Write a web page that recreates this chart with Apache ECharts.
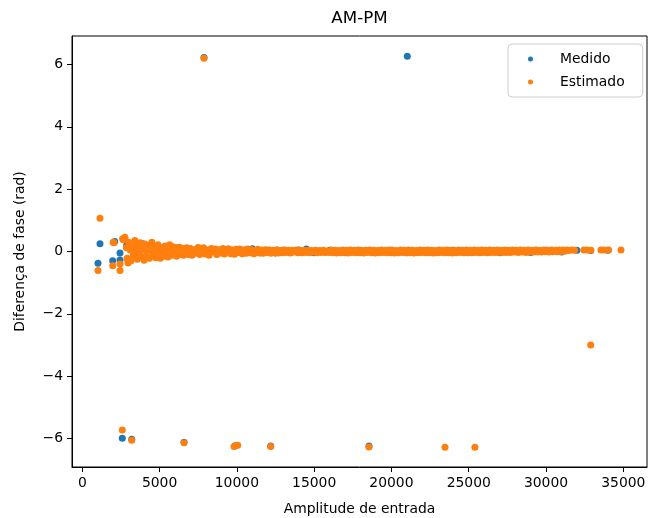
<!DOCTYPE html>
<html>
<head>
<meta charset="utf-8">
<script src="https://cdn.jsdelivr.net/npm/echarts@6/dist/echarts.min.js"></script>
<style>
  html, body { margin: 0; padding: 0; background: #fff; }
  #chart { width: 662px; height: 518px; }
</style>
</head>
<body>
<div id="chart"></div>
<script>
    // [amplitude, phase difference (rad)]
    const medido = [
        [1016, -0.38], [1145, 0.25], [1966, -0.30], [2096, 0.32], [2440, -0.05], [2440, -0.27],
        [2870, 0.19], [2957, -0.27], [2588, -5.99], [3196, -6.02], [6580, -6.12], [9900, -6.23],
        [12188, -6.24], [18548, -6.24], [7873, 6.22], [21026, 6.26],
        [3300, 0.15], [3600, -0.10], [3900, 0.25], [4200, -0.20], [4500, 0.05], [4800, 0.18],
        [5100, -0.12], [5400, 0.08], [5700, -0.08], [6000, 0.12], [6300, -0.06], [6600, 0.06],
        [7000, -0.04], [7500, 0.08], [8000, -0.06], [8500, 0.05], [9000, -0.04], [9500, 0.06],
        [10000, -0.03], [10500, 0.05], [11000, 0.09], [11500, -0.04], [12000, 0.04], [12500, -0.05],
        [13000, 0.04], [13500, -0.03], [14000, 0.05], [14500, 0.08], [15000, -0.04], [16000, 0.04],
        [17000, -0.04], [18000, 0.03], [19000, -0.03], [20000, 0.04], [21000, -0.04], [22000, 0.03],
        [23000, -0.03], [24000, 0.04], [25000, -0.03], [26000, 0.03], [27000, -0.04], [28000, 0.03],
        [29000, -0.03], [30000, 0.04], [31000, -0.02], [32000, 0.04], [32890, 0.03], [34000, 0.04]
    ];

    const estimado = [
        [1016, -0.61], [1145, 1.07], [1966, -0.46], [2000, 0.30], [2050, 0.28], [2440, -0.40],
        [2440, -0.61], [2957, -0.37], [2610, 0.41], [2760, 0.46], [2588, -5.72], [3196, -6.05],
        [6580, -6.13], [9814, -6.25], [10053, -6.21], [12188, -6.25], [18548, -6.27], [23466, -6.28],
        [25400, -6.28], [32890, -3.00], [7873, 6.20],
        [2650, 0.38], [2850, 0.12], [2900, -0.22], [3000, 0.30], [3100, 0.05], [3150, -0.30],
        [3250, 0.22], [3300, -0.12], [3400, 0.35], [3450, 0.02], [3550, -0.25], [3600, 0.18],
        [3700, -0.05], [3750, 0.28], [3850, -0.18], [3900, 0.10], [4000, -0.28], [4050, 0.24],
        [4150, 0.00], [4200, -0.15], [4300, 0.20], [4350, -0.22], [4450, 0.08], [4500, 0.30],
        [4600, -0.10], [4650, 0.15], [4750, -0.20], [4800, 0.05], [4900, 0.22], [4950, -0.08],
        [5050, -0.22], [5100, 0.12], [5200, 0.02], [5250, -0.15], [5350, 0.18], [5400, -0.05],
        [5500, 0.10], [5550, -0.18], [5650, 0.22], [5700, 0.00], [5800, -0.12], [5850, 0.15],
        [5950, -0.05], [6000, 0.08], [6100, -0.15], [6150, 0.12], [6250, -0.02], [6300, 0.14],
        [6400, -0.10], [6450, 0.05], [6550, -0.12], [6600, 0.10], [6700, -0.04], [6750, 0.12],
        [6850, -0.10], [6900, 0.04], [7000, 0.10], [7100, -0.12], [7250, 0.06], [7350, -0.06],
        [7500, 0.13], [7600, -0.10], [7750, 0.02], [7850, 0.12], [7950, -0.08], [8100, 0.05],
        [8200, -0.12], [8350, 0.10], [8450, -0.02], [8600, 0.08], [8700, -0.10], [8850, 0.06],
        [8950, -0.05], [9100, 0.10], [9200, -0.08], [9350, 0.03], [9450, 0.09], [9600, -0.07],
        [9700, 0.05], [9850, -0.09], [9950, 0.07], [10100, -0.03], [10200, 0.08], [10350, -0.07],
        [10450, 0.04], [10600, -0.06], [10700, 0.08], [10850, -0.04], [10950, 0.06], [11100, -0.07],
        [11200, 0.03], [11350, 0.07], [11450, -0.05], [11600, 0.05], [11700, -0.06], [11850, 0.06],
        [11950, -0.03], [12100, 0.05], [12200, -0.06], [12350, 0.04], [12450, -0.04], [12600, 0.06],
        [12700, -0.05], [12850, 0.03], [12950, -0.04], [13100, 0.05], [13200, -0.03], [13350, 0.04],
        [13450, -0.05], [13600, 0.04], [13700, -0.02], [13850, 0.05], [13950, -0.04], [14100, 0.03],
        [14200, -0.04], [14350, 0.04], [14450, -0.03], [14600, 0.04], [14700, -0.04], [14850, 0.03],
        [14950, -0.02], [15100, 0.04], [15200, -0.04], [15350, 0.03], [15450, -0.03], [15600, 0.04],
        [15700, -0.03], [15850, 0.02], [15950, -0.03], [16100, 0.05], [16200, -0.04], [16350, 0.04],
        [16450, -0.05], [16600, 0.03], [16700, -0.04], [16850, 0.05], [16950, -0.03], [17100, 0.04],
        [17200, -0.05], [17350, 0.05], [17450, -0.03], [17600, 0.04], [17700, -0.04], [17850, 0.05],
        [17950, -0.04], [18100, 0.03], [18200, -0.05], [18350, 0.04], [18450, -0.03], [18600, 0.05],
        [18700, -0.04], [18850, 0.04], [18950, -0.05], [19100, 0.03], [19200, -0.04], [19350, 0.05],
        [19450, -0.03], [19600, 0.04], [19700, -0.04], [19850, 0.05], [19950, -0.04], [20100, 0.04],
        [20200, -0.05], [20350, 0.03], [20450, -0.04], [20600, 0.05], [20700, -0.03], [20850, 0.04],
        [20950, -0.04], [21100, 0.05], [21200, -0.04], [21350, 0.04], [21450, -0.05], [21600, 0.03],
        [21700, -0.04], [21850, 0.05], [21950, -0.03], [22100, 0.04], [22200, -0.04], [22350, 0.05],
        [22450, -0.04], [22600, 0.04], [22700, -0.05], [22850, 0.03], [22950, -0.04], [23100, 0.05],
        [23200, -0.03], [23350, 0.04], [23450, -0.04], [23600, 0.05], [23700, -0.04], [23850, 0.04],
        [23950, -0.05], [24100, 0.03], [24200, -0.04], [24350, 0.05], [24450, -0.03], [24600, 0.04],
        [24700, -0.04], [24850, 0.05], [24950, -0.04], [25100, 0.04], [25200, -0.04], [25350, 0.05],
        [25450, -0.03], [25600, 0.04], [25700, -0.04], [25850, 0.05], [25950, -0.03], [26100, 0.04],
        [26200, -0.04], [26350, 0.05], [26450, -0.03], [26600, 0.04], [26700, -0.03], [26850, 0.05],
        [26950, -0.03], [27100, 0.04], [27200, -0.03], [27350, 0.05], [27450, -0.03], [27600, 0.04],
        [27700, -0.03], [27850, 0.05], [27950, -0.02], [28100, 0.04], [28200, -0.03], [28350, 0.05],
        [28450, -0.02], [28600, 0.04], [28700, -0.03], [28850, 0.05], [28950, -0.02], [29100, 0.04],
        [29200, -0.02], [29350, 0.05], [29450, -0.02], [29600, 0.04], [29700, -0.02], [29850, 0.05],
        [29950, -0.01], [30100, 0.04], [30200, -0.02], [30350, 0.05], [30450, -0.01], [30600, 0.04],
        [30700, -0.01], [30850, 0.05], [30950, 0.00], [31100, 0.05], [31200, 0.01], [31350, 0.05],
        [31450, 0.03], [31650, 0.05], [31850, 0.04], [32450, 0.05], [32650, 0.05], [32900, 0.04],
        [33550, 0.05], [33750, 0.05], [34050, 0.05], [34850, 0.05]
    ];

    const xTicks = [0, 5000, 10000, 15000, 20000, 25000, 30000, 35000];
    const yTicks = [-6, -4, -2, 0, 2, 4, 6];

    const font = 'DejaVu Sans';
    const minus = v => (v < 0 ? '\u2212' + Math.abs(v) : String(v));

    const chart = echarts.init(document.getElementById('chart'));
    chart.setOption({
        animation: false,
        color: ['#1f77b4', '#ff7f0e'],
        title: {
            text: 'AM-PM',
            left: 359.5,
            top: 10,
            padding: 0,
            textAlign: 'center',
            textStyle: { fontFamily: font, fontSize: 16.7, fontWeight: 'normal', color: '#000' }
        },
        legend: {
            orient: 'vertical',
            left: 508,
            top: 44,
            padding: [7, 18, 7, 20],
            itemWidth: 23,
            itemHeight: 5,
            itemGap: 7,
            icon: 'circle',
            backgroundColor: 'rgba(255,255,255,0.8)',
            borderColor: '#cccccc',
            borderWidth: 1,
            borderRadius: 4,
            textStyle: { fontFamily: font, fontSize: 13.9, color: '#000', lineHeight: 16, padding: [0, 0, 0, 13] },
            data: ['Medido', 'Estimado']
        },
        grid: {
            left: 72, right: 15, top: 36, bottom: 51,
            show: true, borderColor: '#000', borderWidth: 1,
            outerBoundsMode: 'none'
        },
        xAxis: {
            type: 'value',
            min: -666,
            max: 36533,
            name: 'Amplitude de entrada',
            nameLocation: 'middle',
            nameGap: 35,
            nameTextStyle: { fontFamily: font, fontSize: 13.9, color: '#000' },
            axisLine: { show: true, onZero: false, lineStyle: { color: '#000', width: 1 } },
            axisTick: { show: true, length: 5, customValues: xTicks, lineStyle: { color: '#000' } },
            axisLabel: { customValues: xTicks, margin: 9, fontFamily: font, fontSize: 13.9, color: '#000', formatter: v => String(v) },
            splitLine: { show: false }
        },
        yAxis: {
            type: 'value',
            min: -6.91,
            max: 6.91,
            name: 'Diferença de fase (rad)',
            nameLocation: 'middle',
            nameGap: 45,
            nameRotate: 90,
            nameTextStyle: { fontFamily: font, fontSize: 13.9, color: '#000' },
            axisLine: { show: true, onZero: false, lineStyle: { color: '#000', width: 1 } },
            axisTick: { show: true, length: 5, customValues: yTicks, lineStyle: { color: '#000' } },
            axisLabel: { customValues: yTicks, margin: 9, fontFamily: font, fontSize: 13.9, color: '#000', formatter: minus },
            splitLine: { show: false }
        },
        series: [
            { name: 'Medido', type: 'scatter', symbolSize: 7, itemStyle: { opacity: 1 }, data: medido },
            { name: 'Estimado', type: 'scatter', symbolSize: 7, itemStyle: { opacity: 1 }, data: estimado }
        ]
    });
</script>
</body>
</html>
